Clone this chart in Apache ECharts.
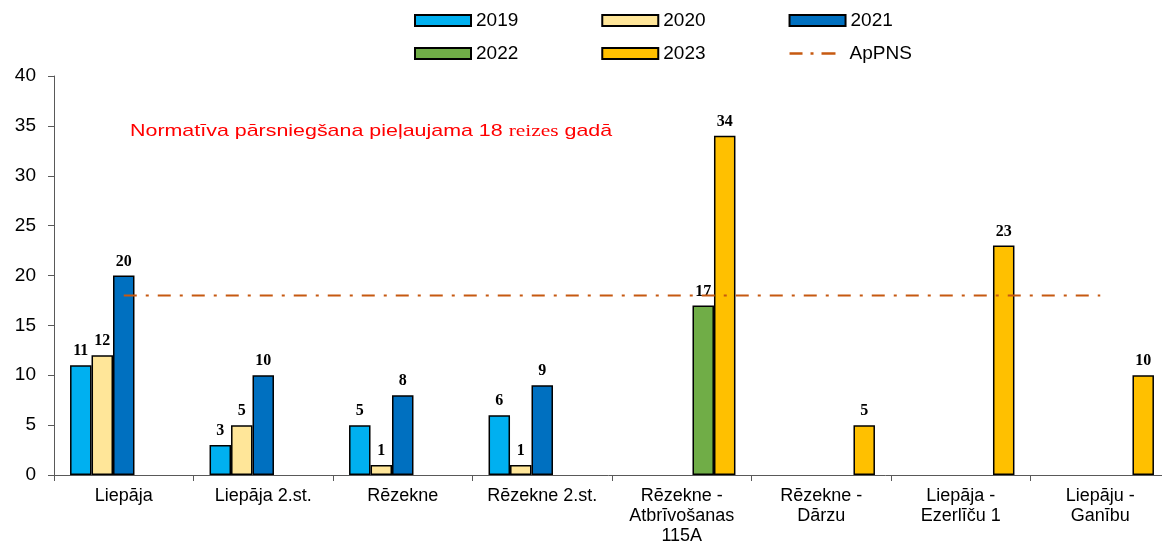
<!DOCTYPE html>
<html>
<head>
<meta charset="utf-8">
<script src="https://cdn.jsdelivr.net/npm/echarts@6/dist/echarts.min.js"></script>
<style>
html,body{margin:0;padding:0;background:#fff;}
#main{width:1162px;height:543px;}
</style>
</head>
<body>
<div id="main"></div>
<script>
// dati
var categories = ['Liepāja', 'Liepāja 2.st.', 'Rēzekne', 'Rēzekne 2.st.', 'Rēzekne -\nAtbrīvošanas\n115A', 'Rēzekne -\nDārzu', 'Liepāja -\nEzerlīču 1', 'Liepāju -\nGanību'];
var y2019 = [11, 3, 5, 6, null, null, null, null];
var y2020 = [12, 5, 1, 1, null, null, null, null];
var y2021 = [20, 10, 8, 9, null, null, null, null];
var y2022 = [null, null, null, null, 17, null, null, null];
var y2023 = [null, null, null, null, 34, 5, 23, 10];
var apPNS = [18, 18, 18, 18, 18, 18, 18, 18];
var yTicks = [0, 5, 10, 15, 20, 25, 30, 35, 40];

var colors = ['#00B0F0', '#FFE699', '#0070C0', '#70AD47', '#FFC000'];
var names = ['2019', '2020', '2021', '2022', '2023'];
var values = [y2019, y2020, y2021, y2022, y2023];

var series = [];
for (var i = 0; i < 5; i++) {
    series.push({
        name: names[i],
        type: 'bar',
        barGap: '0%',
        barCategoryGap: '23%',
        itemStyle: {color: colors[i], borderColor: '#000', borderWidth: 1.5},
        label: {
            show: true,
            position: 'top',
            distance: 6,
            color: '#000',
            fontFamily: 'Liberation Serif',
            fontWeight: 'bold',
            fontSize: 16
        },
        data: values[i]
    });
}
series.push({
    name: 'ApPNS',
    type: 'line',
    symbol: 'none',
    silent: true,
    z: 5,
    lineStyle: {color: '#C65911', width: 2, type: [13, 9, 3, 9]},
    itemStyle: {color: '#C65911'},
    data: apPNS
});

// legendas ikona liniju: svītra - punkts - svītra
var dashDotIcon = 'path://M0,0h0.01v0.01h-0.01z M56,11h0.01v0.01h-0.01z M1,4.3h13v2.5h-13z M22,4.3h3v2.5h-3z M33,4.3h14v2.5h-14z';

var legendText = {fontFamily: 'Arial', fontSize: 19, color: '#000'};

var myecharts = echarts.init(document.getElementById('main'));
var option = {
    animation: false,
    textStyle: {fontFamily: 'Arial'},
    legend: [
        {
            data: ['2019', '2020', '2021'],
            left: 409, top: 6,
            icon: 'rect',
            itemWidth: 56, itemHeight: 11, itemGap: 83,
            itemStyle: {borderColor: '#000', borderWidth: 2},
            textStyle: legendText
        },
        {
            data: ['2022', '2023', {name: 'ApPNS', icon: dashDotIcon, itemStyle: {borderWidth: 0}}],
            left: 409, top: 39,
            icon: 'rect',
            itemWidth: 56, itemHeight: 11, itemGap: 83,
            itemStyle: {borderColor: '#000', borderWidth: 2},
            textStyle: legendText
        }
    ],
    grid: {left: 54, width: 1116, top: 76, bottom: 68, outerBoundsMode: 'none', containLabel: false},
    xAxis: {
        type: 'category',
        data: categories,
        axisLine: {lineStyle: {color: '#595959', width: 1}},
        axisTick: {show: true, length: 6, lineStyle: {color: '#595959'}},
        axisLabel: {interval: 0, color: '#000', fontSize: 18, margin: 11, lineHeight: 20}
    },
    yAxis: {
        type: 'value',
        min: yTicks[0],
        max: yTicks[yTicks.length - 1],
        interval: 5,
        splitLine: {show: false},
        axisLine: {show: true, lineStyle: {color: '#595959', width: 1}},
        axisTick: {show: true, length: 6, lineStyle: {color: '#595959'}},
        axisLabel: {color: '#000', fontSize: 19, margin: 18}
    },
    graphic: [{
        type: 'text',
        left: 130,
        top: 123,
        scaleX: 1.26,
        style: {
            text: 'Normatīva pārsniegšana pieļaujama 18 {s|reizes} gadā',
            fill: '#FF0000',
            font: '17px Arial',
            rich: {s: {fontFamily: 'Liberation Serif', fontSize: 17, fill: '#FF0000'}}
        }
    }],
    series: series
};
myecharts.setOption(option);
</script>
</body>
</html>
